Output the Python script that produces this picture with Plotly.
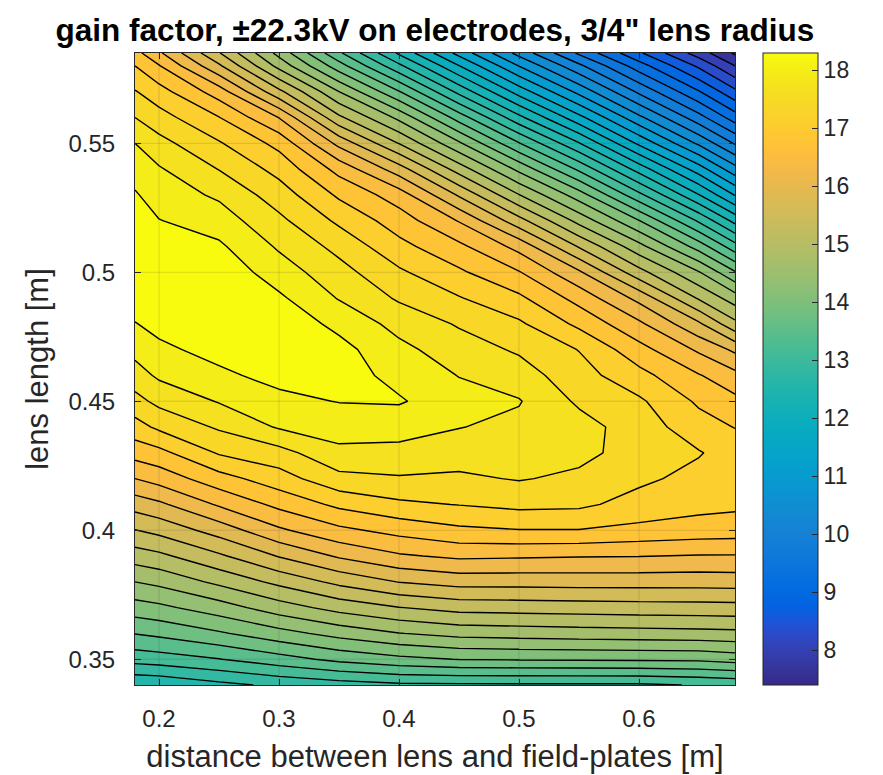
import plotly.graph_objects as go

# ---- data ----
x_dist = [0.18, 0.20, 0.25, 0.30, 0.35, 0.40, 0.45, 0.50, 0.55, 0.60, 0.65, 0.68]
y_len = [0.34, 0.35, 0.36, 0.37, 0.38, 0.39, 0.40, 0.41, 0.42, 0.43, 0.44, 0.45, 0.46,
         0.47, 0.48, 0.49, 0.50, 0.51, 0.52, 0.53, 0.54, 0.55, 0.56, 0.57, 0.58, 0.585]

gain = [
    [12.32, 12.35, 12.52, 12.66, 12.76, 12.84, 12.85, 12.85, 12.85, 12.85, 12.92, 12.96],
    [13.02, 13.06, 13.19, 13.38, 13.58, 13.72, 13.81, 13.83, 13.84, 13.85, 13.86, 13.93],
    [13.51, 13.57, 13.76, 13.99, 14.21, 14.39, 14.50, 14.53, 14.56, 14.58, 14.60, 14.62],
    [13.97, 14.03, 14.26, 14.56, 14.81, 14.99, 15.11, 15.13, 15.15, 15.17, 15.18, 15.19],
    [14.40, 14.48, 14.77, 15.08, 15.38, 15.61, 15.72, 15.72, 15.73, 15.73, 15.73, 15.74],
    [14.85, 14.93, 15.25, 15.62, 15.94, 16.16, 16.26, 16.24, 16.22, 16.21, 16.18, 16.18],
    [15.29, 15.39, 15.73, 16.15, 16.43, 16.60, 16.74, 16.79, 16.79, 16.72, 16.67, 16.65],
    [15.73, 15.84, 16.24, 16.58, 16.87, 17.04, 17.11, 17.18, 17.16, 16.99, 16.89, 16.86],
    [16.20, 16.32, 16.68, 16.97, 17.31, 17.37, 17.35, 17.42, 17.34, 17.16, 17.01, 16.95],
    [16.62, 16.71, 17.13, 17.29, 17.63, 17.62, 17.53, 17.52, 17.48, 17.28, 17.12, 16.97],
    [16.98, 17.16, 17.44, 17.73, 17.83, 17.81, 17.71, 17.62, 17.52, 17.25, 16.93, 16.79],
    [17.30, 17.48, 17.72, 17.93, 18.01, 18.03, 17.82, 17.72, 17.35, 17.15, 16.75, 16.58],
    [17.57, 17.75, 17.95, 18.08, 18.13, 17.91, 17.69, 17.54, 17.22, 16.90, 16.52, 16.29],
    [17.79, 17.95, 18.08, 18.20, 18.10, 17.78, 17.54, 17.36, 17.09, 16.61, 16.15, 15.84],
    [17.99, 18.07, 18.18, 18.20, 17.92, 17.60, 17.37, 17.15, 16.73, 16.26, 15.65, 15.08],
    [18.12, 18.18, 18.25, 18.05, 17.68, 17.36, 17.12, 16.86, 16.39, 15.81, 14.96, 14.55],
    [18.22, 18.27, 18.20, 17.85, 17.51, 17.15, 16.85, 16.52, 15.95, 15.11, 14.42, 13.83],
    [18.24, 18.20, 18.05, 17.66, 17.31, 16.89, 16.57, 16.10, 15.27, 14.50, 13.66, 13.02],
    [18.15, 18.01, 17.85, 17.47, 17.04, 16.65, 16.18, 15.41, 14.60, 13.81, 12.85, 12.20],
    [18.03, 17.86, 17.65, 17.25, 16.75, 16.35, 15.56, 14.71, 13.94, 12.98, 12.01, 11.38],
    [17.87, 17.73, 17.39, 17.00, 16.40, 15.74, 14.86, 14.02, 13.14, 12.17, 11.24, 10.61],
    [17.70, 17.50, 17.13, 16.71, 15.81, 14.99, 14.15, 13.22, 12.32, 11.34, 10.44, 9.87],
    [17.40, 17.22, 16.81, 16.19, 15.06, 14.32, 13.36, 12.38, 11.49, 10.57, 9.71, 9.15],
    [17.12, 16.92, 16.35, 15.38, 14.40, 13.52, 12.51, 11.57, 10.71, 9.84, 9.02, 8.47],
    [16.80, 16.52, 15.65, 14.60, 13.63, 12.67, 11.71, 10.79, 9.97, 9.14, 8.34, 7.80],
    [16.60, 16.25, 15.32, 14.30, 13.25, 12.25, 11.30, 10.40, 9.55, 8.75, 7.95, 7.45],
]

x_ticks = [0.2, 0.3, 0.4, 0.5, 0.6]
y_ticks = [0.35, 0.40, 0.45, 0.50, 0.55]
cbar_ticks = [8, 9, 10, 11, 12, 13, 14, 15, 16, 17, 18]
c_range = [7.4, 18.3]
level_start, level_end, level_step = 7.5, 18.0, 0.3

# ---- parula colormap ----
parula = [
    [0.2081, 0.1663, 0.5292], [0.2116, 0.1898, 0.5777], [0.2123, 0.2138, 0.6270], [0.2081, 0.2386, 0.6771],
    [0.1959, 0.2645, 0.7279], [0.1707, 0.2919, 0.7792], [0.1253, 0.3242, 0.8303], [0.0591, 0.3598, 0.8683],
    [0.0117, 0.3875, 0.8820], [0.0060, 0.4086, 0.8828], [0.0165, 0.4266, 0.8786], [0.0329, 0.4430, 0.8720],
    [0.0498, 0.4586, 0.8641], [0.0629, 0.4737, 0.8554], [0.0723, 0.4887, 0.8467], [0.0779, 0.5040, 0.8384],
    [0.0793, 0.5200, 0.8312], [0.0749, 0.5375, 0.8263], [0.0641, 0.5570, 0.8240], [0.0488, 0.5772, 0.8228],
    [0.0343, 0.5966, 0.8199], [0.0265, 0.6137, 0.8135], [0.0239, 0.6287, 0.8038], [0.0231, 0.6418, 0.7913],
    [0.0228, 0.6535, 0.7768], [0.0267, 0.6642, 0.7607], [0.0384, 0.6743, 0.7436], [0.0590, 0.6838, 0.7254],
    [0.0843, 0.6928, 0.7062], [0.1133, 0.7015, 0.6859], [0.1453, 0.7098, 0.6646], [0.1801, 0.7177, 0.6424],
    [0.2178, 0.7250, 0.6193], [0.2586, 0.7317, 0.5954], [0.3022, 0.7376, 0.5712], [0.3482, 0.7424, 0.5473],
    [0.3953, 0.7459, 0.5244], [0.4420, 0.7481, 0.5033], [0.4871, 0.7491, 0.4840], [0.5300, 0.7491, 0.4661],
    [0.5709, 0.7485, 0.4494], [0.6099, 0.7473, 0.4337], [0.6473, 0.7456, 0.4188], [0.6834, 0.7435, 0.4044],
    [0.7184, 0.7411, 0.3905], [0.7525, 0.7384, 0.3768], [0.7858, 0.7356, 0.3633], [0.8185, 0.7327, 0.3498],
    [0.8507, 0.7299, 0.3360], [0.8824, 0.7274, 0.3217], [0.9139, 0.7258, 0.3063], [0.9450, 0.7261, 0.2886],
    [0.9739, 0.7314, 0.2666], [0.9938, 0.7455, 0.2403], [0.9990, 0.7653, 0.2164], [0.9955, 0.7861, 0.1967],
    [0.9880, 0.8066, 0.1794], [0.9789, 0.8271, 0.1633], [0.9697, 0.8481, 0.1475], [0.9626, 0.8705, 0.1309],
    [0.9589, 0.8949, 0.1132], [0.9598, 0.9218, 0.0948], [0.9661, 0.9514, 0.0755], [0.9763, 0.9831, 0.0538],
]
n = len(parula)
colorscale = [[i / (n - 1), "rgb(%d,%d,%d)" % tuple(round(255 * c) for c in rgb)]
              for i, rgb in enumerate(parula)]

FONT = "Liberation Sans, Arial, Helvetica, sans-serif"
DARK = "rgb(38,38,38)"

fig = go.Figure()
fig.add_trace(go.Contour(
    x=x_dist, y=y_len, z=gain,
    colorscale=colorscale, zmin=c_range[0], zmax=c_range[1],
    autocontour=False,
    contours=dict(start=level_start, end=level_end, size=level_step,
                  coloring="fill", showlines=True),
    line=dict(color="black", width=1.4, smoothing=0),
    showscale=False, hoverinfo="skip",
))

# colorbar (continuous, like MATLAB) carried by an empty marker trace
fig.add_trace(go.Scatter(
    x=[None, None], y=[None, None], mode="markers", hoverinfo="skip", showlegend=False,
    marker=dict(color=c_range, cmin=c_range[0], cmax=c_range[1], colorscale=colorscale,
                showscale=True,
                colorbar=dict(
                    thickness=55, thicknessmode="pixels", len=1, lenmode="fraction",
                    x=(763 - 135) / 600, xanchor="left", y=0.5, yanchor="middle",
                    xpad=0, ypad=0, outlinewidth=1, outlinecolor=DARK,
                    tickvals=cbar_ticks, ticks="inside", ticklen=6, tickcolor=DARK,
                    tickprefix=" ",
                    tickfont=dict(family=FONT, size=23, color=DARK),
                )),
))

grid_shapes = []
for gx in x_ticks:
    grid_shapes.append(dict(type="line", xref="x", yref="paper", x0=gx, x1=gx, y0=0, y1=1,
                            line=dict(color="rgba(38,38,38,0.15)", width=1), layer="above"))
for gy in y_ticks:
    grid_shapes.append(dict(type="line", xref="paper", yref="y", x0=0, x1=1, y0=gy, y1=gy,
                            line=dict(color="rgba(38,38,38,0.15)", width=1), layer="above"))

axis_common = dict(showline=True, linecolor=DARK, linewidth=1, mirror="ticks",
                   ticks="inside", ticklen=6, tickcolor=DARK, showgrid=False, zeroline=False,
                   layer="above traces", tickfont=dict(family=FONT, size=24, color=DARK))

fig.update_layout(
    width=883, height=775,
    margin=dict(l=135, r=148, t=53, b=90, autoexpand=False),
    paper_bgcolor="white", plot_bgcolor="white",
    font=dict(family=FONT, color=DARK),
    title=dict(text="<b>gain factor, \u00b122.3kV on electrodes, 3/4\" lens radius</b>",
               font=dict(family=FONT, size=31.5, color="black"),
               x=0.5, xref="paper", xanchor="center",
               y=1 - 30 / 775, yref="container", yanchor="middle"),
    xaxis=dict(range=[x_dist[0], x_dist[-1]], tickvals=x_ticks, ticklabelstandoff=12,
               title=dict(text="distance between lens and field-plates [m]",
                          font=dict(family=FONT, size=31, color=DARK), standoff=14),
               **axis_common),
    yaxis=dict(range=[y_len[0], y_len[-1]], tickvals=y_ticks, ticklabelstandoff=14,
               title=dict(text="lens length [m]",
                          font=dict(family=FONT, size=31, color=DARK), standoff=10),
               **axis_common),
    shapes=grid_shapes,
    showlegend=False,
)

fig.write_html("out.html")
